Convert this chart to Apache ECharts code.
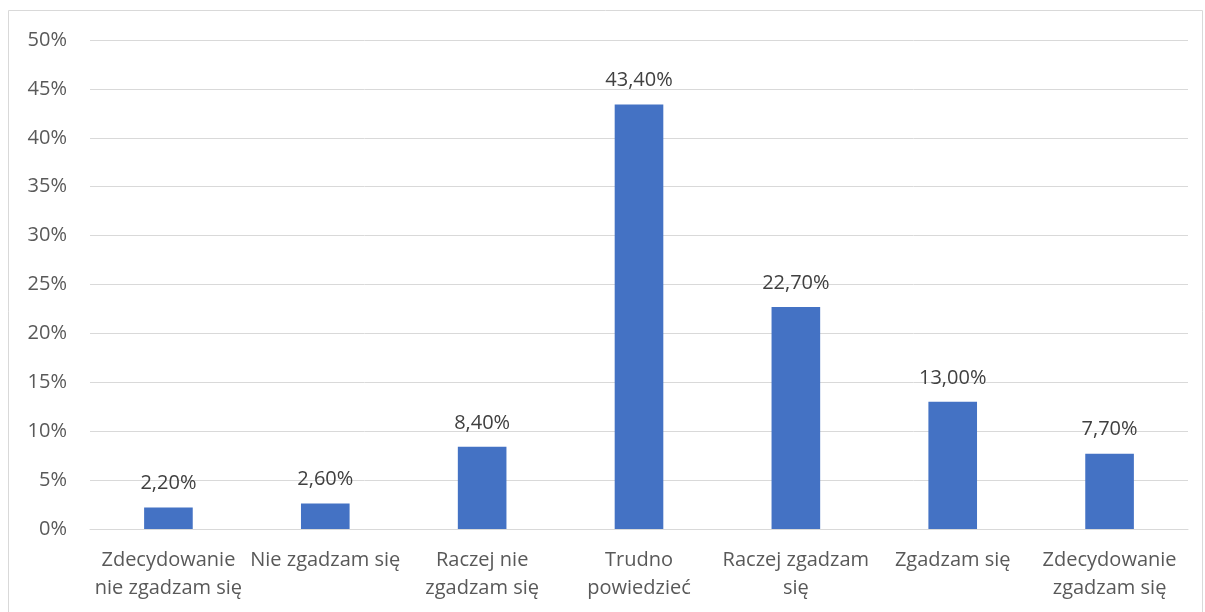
<!DOCTYPE html>
<html><head><meta charset="utf-8">
<script src="https://cdn.jsdelivr.net/npm/echarts@6/dist/echarts.min.js"></script>
<style>html,body{margin:0;padding:0;background:#fff}#c{width:1205px;height:612px}</style>
</head><body><div id="c"></div>
<script>
const categories = ["Zdecydowanie\nnie zgadzam się", "Nie zgadzam się", "Raczej nie\nzgadzam się", "Trudno\npowiedzieć", "Raczej zgadzam\nsię", "Zgadzam się", "Zdecydowanie\nzgadzam się"];
const values = [2.2, 2.6, 8.4, 43.4, 22.7, 13.0, 7.7];
const yTicks = [0, 5, 10, 15, 20, 25, 30, 35, 40, 45, 50];

const font = "'Open Sans', 'Liberation Sans', sans-serif";
const chart = echarts.init(document.getElementById('c'), null, {renderer: 'canvas'});
chart.setOption({
  animation: false,
  graphic: [{type: 'rect', shape: {x: 8.5, y: 10.5, width: 1194, height: 620}, style: {fill: 'none', stroke: '#d9d9d9', lineWidth: 1}, z: 0}],
  grid: {left: 90, right: 17, top: 40, bottom: 83, containLabel: false},
  xAxis: {
    type: 'category', data: categories,
    axisLine: {show: true, lineStyle: {color: '#d9d9d9', width: 1}},
    axisTick: {show: false},
    axisLabel: {color: '#595959', fontFamily: font, fontSize: 20, lineHeight: 28, margin: 17, interval: 0}
  },
  yAxis: {
    type: 'value', min: yTicks[0], max: yTicks[yTicks.length - 1], interval: 5,
    axisLine: {show: false}, axisTick: {show: false},
    splitLine: {lineStyle: {color: '#d9d9d9', width: 1}},
    axisLabel: {color: '#595959', fontFamily: font, fontSize: 20, margin: 23, formatter: v => v + '%'}
  },
  series: [{
    type: 'bar', data: values, barWidth: '31%',
    itemStyle: {color: '#4472c4'},
    label: {show: true, position: 'top', distance: 14, color: '#404040', fontFamily: font, fontSize: 20,
      formatter: p => p.value.toFixed(2).replace('.', ',') + '%'}
  }]
});
</script></body></html>
